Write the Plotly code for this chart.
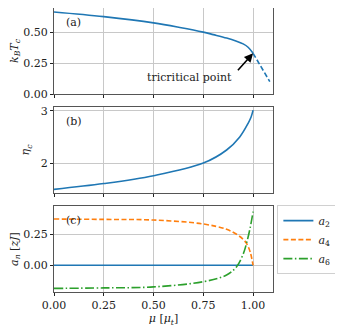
import plotly.graph_objects as go
from plotly.subplots import make_subplots

# (a) critical temperature, first-order part (solid) and continuation (dashed)
mu_tc = [0.0, 0.25, 0.5, 0.632, 0.75, 0.8, 0.867, 0.917, 0.95, 0.975, 1.0]
tc = [0.663, 0.625, 0.575, 0.538, 0.5, 0.48, 0.452, 0.426, 0.405, 0.378, 0.329]
mu_tc_dash = [1.0, 1.04, 1.084]
tc_dash = [0.329, 0.22, 0.1]

# (b) eta_c
mu_eta = [0.0, 0.25, 0.5, 0.75, 0.867, 0.933, 0.975, 0.99, 1.0]
eta = [1.5, 1.61, 1.76, 2.0, 2.25, 2.5, 2.76, 2.88, 3.01]

# (c) coefficients a_n
mu_a = [0.0, 0.25, 0.5, 0.75, 0.867, 0.917, 0.95, 0.967, 0.985, 1.0]
a2 = [0.0, 0.0, 0.0, 0.0, 0.0, 0.0, 0.0, 0.0, 0.0, 0.0]
a4 = [0.373, 0.37, 0.365, 0.333, 0.29, 0.25, 0.21, 0.177, 0.11, 0.0]
a6 = [-0.186, -0.182, -0.174, -0.132, -0.078, -0.011, 0.09, 0.177, 0.3, 0.433]

x_ticks = [0.0, 0.25, 0.5, 0.75, 1.0]
x_ticklabels = ["0.00", "0.25", "0.50", "0.75", "1.00"]

BLUE = "#1f77b4"
ORANGE = "#ff7f0e"
GREEN = "#2ca02c"
FONT = "DejaVu Serif"
TXT = dict(family=FONT, size=11, color="#222")

fig = make_subplots(rows=3, cols=1, vertical_spacing=13 / 284)

fig.add_trace(go.Scatter(x=mu_tc, y=tc, mode="lines", line=dict(color=BLUE, width=1.6, shape="spline"),
                         showlegend=False), row=1, col=1)
fig.add_trace(go.Scatter(x=mu_tc_dash, y=tc_dash, mode="lines",
                         line=dict(color=BLUE, width=1.6, dash="5px,2.5px"),
                         showlegend=False), row=1, col=1)

fig.add_trace(go.Scatter(x=mu_eta, y=eta, mode="lines", line=dict(color=BLUE, width=1.6, shape="spline"),
                         showlegend=False), row=2, col=1)

fig.add_trace(go.Scatter(x=mu_a, y=a2, mode="lines", name="<i>a</i><sub>2</sub>",
                         line=dict(color=BLUE, width=1.6)), row=3, col=1)
fig.add_trace(go.Scatter(x=mu_a, y=a4, mode="lines", name="<i>a</i><sub>4</sub>",
                         line=dict(color=ORANGE, width=1.6, dash="5px,2.5px", shape="spline")), row=3, col=1)
fig.add_trace(go.Scatter(x=mu_a, y=a6, mode="lines", name="<i>a</i><sub>6</sub>",
                         line=dict(color=GREEN, width=1.6, dash="9px,2.5px,1.5px,2.5px", shape="spline")),
              row=3, col=1)

axis_common = dict(showline=True, linecolor="#555", linewidth=1.2, mirror=True,
                   showgrid=True, gridcolor="#c8c8c8", gridwidth=1, zeroline=False,
                   ticks="outside", ticklen=3, tickcolor="#222", automargin=False,
                   tickfont=TXT)

for r in (1, 2, 3):
    fig.update_xaxes(range=[0, 1.1], tickvals=x_ticks, ticktext=x_ticklabels,
                     showticklabels=(r == 3), row=r, col=1, **axis_common)

fig.update_xaxes(title=dict(text="<i>μ</i> [<i>μ</i><sub><i>t</i></sub>]", font=TXT, standoff=2),
                 row=3, col=1)

fig.update_yaxes(range=[0, 0.695], tickvals=[0, 0.25, 0.5], ticktext=["0.00", "0.25", "0.50"],
                 title=dict(text="<i>k</i><sub><i>B</i></sub><i>T</i><sub><i>c</i></sub>", font=TXT, standoff=4),
                 row=1, col=1, **axis_common)
fig.update_yaxes(range=[1.43, 3.07], tickvals=[2, 3], ticktext=["2", "3"],
                 title=dict(text="<i>η</i><sub><i>c</i></sub>", font=TXT, standoff=8),
                 row=2, col=1, **axis_common)
fig.update_yaxes(range=[-0.215, 0.478], tickvals=[0, 0.25], ticktext=["0.00", "0.25"],
                 title=dict(text="<i>a</i><sub><i>n</i></sub> [<i>zJ</i>]", font=TXT, standoff=4),
                 row=3, col=1, **axis_common)

# panel labels
for ref, lab in (("", "(a)"), ("2", "(b)"), ("3", "(c)")):
    fig.add_annotation(xref=f"x{ref} domain", yref=f"y{ref} domain",
                       x=0.045, y=0.93, text=lab, showarrow=False, xanchor="left", yanchor="top",
                       font=TXT)

# tricritical point arrow + text
fig.add_annotation(x=1.0, y=0.329, ax=0.917, ay=0.18, xref="x", yref="y", axref="x", ayref="y",
                   text="", showarrow=True, arrowhead=2, arrowsize=1.1, arrowwidth=1.6, arrowcolor="black")
fig.add_annotation(x=0.905, y=0.13, xref="x", yref="y", text="tricritical point", showarrow=False,
                   xanchor="right", yanchor="middle", font=TXT)

# the page body adds an 8px offset, so the figure is drawn 8px smaller with a reduced left/top margin
fig.update_layout(
    width=335, height=328,
    margin=dict(l=46, r=70, t=0, b=44, autoexpand=False),
    plot_bgcolor="white", paper_bgcolor="white",
    font=TXT,
    legend=dict(x=1.02, y=0.306, xanchor="left", yanchor="top",
                bordercolor="#d0d0d0", borderwidth=1, bgcolor="white",
                font=TXT, itemwidth=30, tracegroupgap=0),
)

fig.write_html("out.html")
